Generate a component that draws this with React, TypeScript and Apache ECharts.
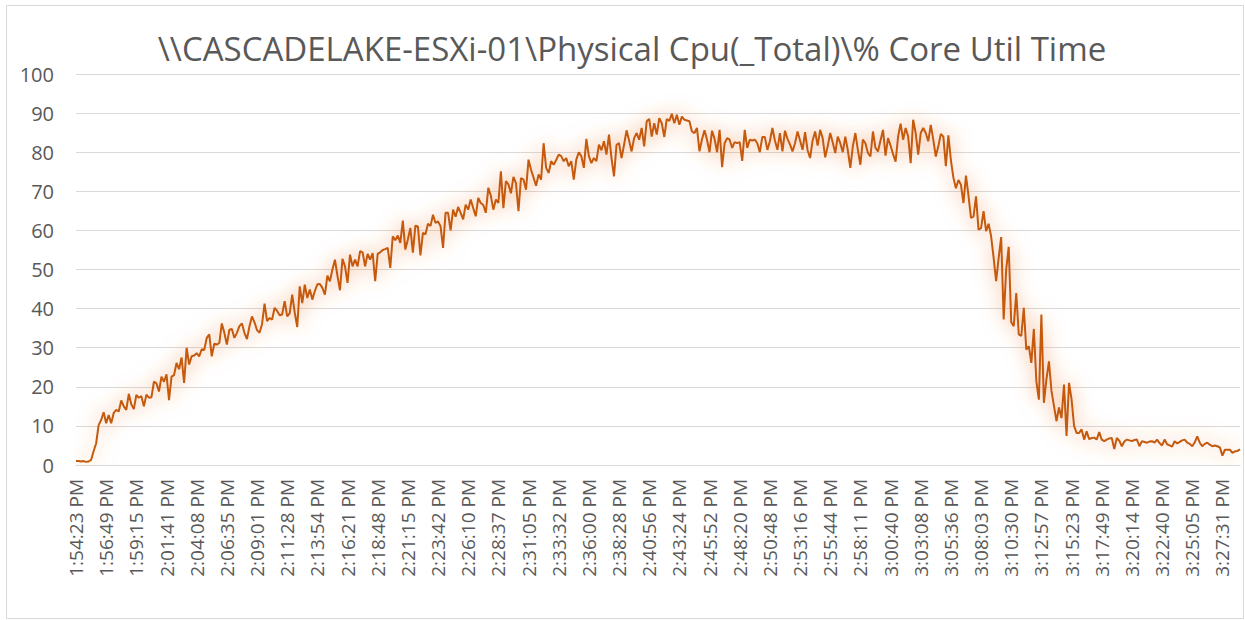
import React, { useEffect, useRef } from "react";
import * as echarts from "echarts";

const chartTitle = "\\\\CASCADELAKE-ESXi-01\\Physical Cpu(_Total)\\% Core Util Time";

const tickLabels = [
  "1:54:23 PM", "1:56:49 PM", "1:59:15 PM", "2:01:41 PM", "2:04:08 PM", "2:06:35 PM",
  "2:09:01 PM", "2:11:28 PM", "2:13:54 PM", "2:16:21 PM", "2:18:48 PM", "2:21:15 PM",
  "2:23:42 PM", "2:26:10 PM", "2:28:37 PM", "2:31:05 PM", "2:33:32 PM", "2:36:00 PM",
  "2:38:28 PM", "2:40:56 PM", "2:43:24 PM", "2:45:52 PM", "2:48:20 PM", "2:50:48 PM",
  "2:53:16 PM", "2:55:44 PM", "2:58:11 PM", "3:00:40 PM", "3:03:08 PM", "3:05:36 PM",
  "3:08:03 PM", "3:10:30 PM", "3:12:57 PM", "3:15:23 PM", "3:17:49 PM", "3:20:14 PM",
  "3:22:40 PM", "3:25:05 PM", "3:27:31 PM",
];

const samplesPerTick = 12;

// ramp-up phase
const rampValues = [
  1.0, 1.0, 0.9, 1.0, 0.8, 0.9, 1.3, 3.5, 5.5, 10.2,
  11.5, 13.5, 10.7, 12.8, 10.7, 13.3, 14.1, 13.7, 16.5, 15.0,
  14.1, 18.2, 15.5, 14.3, 17.9, 17.2, 17.6, 15.0, 18.0, 17.2,
  17.3, 21.3, 20.9, 18.8, 22.6, 21.3, 23.2, 16.6, 22.6, 23.0,
  26.1, 24.5, 27.5, 21.0, 30.0, 25.7, 27.8, 28.0, 28.6, 27.8,
  29.6, 29.4, 32.5, 33.4, 27.8, 31.0, 30.8, 31.2, 36.2, 33.8,
  30.8, 34.6, 34.8, 32.5, 33.8, 35.5, 36.2, 33.8, 32.2, 35.5,
  38.0, 36.5, 34.5, 33.8, 36.0, 41.3, 36.8, 37.6, 37.2, 40.2,
  39.4, 38.3, 38.5, 41.9, 38.0, 38.8, 43.6, 39.0, 35.3, 45.7,
  41.4, 46.1, 42.7, 44.9, 42.3, 44.5, 46.2, 46.3, 45.3, 43.6,
  48.4, 47.0, 50.0, 52.5, 48.4, 44.7, 52.7, 50.8, 46.6, 53.8,
  50.8, 52.5, 50.8, 54.7, 54.4, 50.8, 54.0, 52.5, 54.2, 47.0,
  54.0, 54.4, 55.0, 55.2, 55.5, 50.4, 58.5, 57.5, 58.7, 56.8,
  62.5,
];

// climb to the peak
const climbValues = [
  55.1, 57.7, 60.6, 54.3, 61.2, 61.0, 53.6, 59.4, 59.0, 61.7,
  61.1, 64.0, 61.9, 62.3, 61.1, 55.5, 64.5, 64.5, 60.0, 65.3,
  63.5,
  66.0, 64.5, 62.8, 66.6, 65.3, 67.9, 65.7, 63.6, 68.3, 67.0,
  66.5,
  64.5, 70.9, 68.9, 65.3, 67.9, 67.0, 75.1, 65.7, 72.6, 71.8,
  69.5,
  73.7, 72.1, 64.9, 73.4, 73.0, 70.4, 78.1, 75.5,
  73.5,
  71.4, 74.3, 73.0, 82.3, 76.0, 74.7, 77.7, 76.8,
  78.0,
  79.4, 79.0, 77.7, 78.5, 76.4, 77.7, 73.0, 78.1,
  80.0,
  79.0, 76.0, 83.4, 79.0, 77.2, 78.5, 77.7, 81.9,
  80.5,
  82.8, 79.4, 84.5, 78.5, 73.8, 81.9, 82.3, 78.5, 81.9, 85.6,
  83.0,
  80.2, 83.6, 84.9, 83.2, 86.2, 81.5, 87.9, 88.5, 84.0, 87.4,
  84.5, 88.7, 87.4, 83.9, 88.5, 88.0, 89.8, 87.4, 89.6, 87.0,
  89.1, 88.3, 88.1, 87.9, 85.3, 84.9, 86.2, 80.2,
];

// plateau, drop and idle tail
const plateauValues = [
  83.3, 85.6, 83.2, 80.0, 85.5, 83.4, 80.0, 85.7, 76.2, 82.3,
  83.6, 83.2, 81.1, 82.6, 82.3, 82.6, 77.8, 85.7, 81.1, 83.2,
  83.0, 83.2, 82.3, 80.0, 83.9, 83.9, 80.6, 82.8, 86.2, 83.0,
  80.6, 84.9, 80.2, 85.5, 83.4, 82.0, 80.2, 82.3, 85.3, 83.0,
  80.6, 85.1, 80.5, 78.5, 83.0, 85.3, 81.7, 85.7, 83.6, 78.7,
  81.5, 84.9, 82.5, 79.8, 84.0, 82.3, 80.0, 84.0, 80.5, 76.0,
  81.5, 84.9, 80.6, 76.8, 83.2, 82.3, 79.8, 78.9, 85.3, 81.1,
  80.2, 83.0, 85.7, 79.1, 83.6, 81.7, 79.5, 77.6, 84.0, 87.3,
  83.2, 86.2, 84.0, 77.2, 88.3, 84.9, 79.4, 84.9, 86.2, 84.9,
  82.8, 87.0, 83.2, 78.9, 81.5, 84.7, 84.0, 76.4, 84.3, 78.0,
  73.5, 70.8, 72.9, 71.7, 67.0, 74.0, 68.9, 63.2, 63.5, 68.7,
  60.2, 60.6, 64.9, 59.8, 61.7, 58.5, 53.0, 47.0, 53.0, 58.3,
  37.2, 50.0, 55.8, 36.5, 35.5, 44.0, 33.4, 33.0, 40.2, 29.5,
  30.4, 26.1, 34.8, 21.4, 16.7, 38.5, 15.9, 21.9, 26.5, 19.0,
  15.1, 11.2, 14.7, 12.0, 20.6, 7.4, 21.0, 16.8, 10.0, 8.2,
  8.2, 9.1, 6.5, 8.6, 6.6, 6.9, 7.0, 6.5, 8.4, 6.5,
  6.1, 6.5, 6.8, 6.9, 4.1, 6.9, 6.2, 4.8, 6.0, 6.5,
  6.3, 6.1, 6.4, 6.5, 4.8, 6.1, 5.9, 5.7, 6.0, 6.1,
  5.7, 6.5, 5.6, 5.0, 6.5, 5.3, 5.0, 4.7, 6.1, 5.5,
  5.9, 6.3, 6.5, 5.7, 5.4, 4.8, 5.8, 7.3, 5.7, 4.8,
  5.4, 5.7, 5.2, 4.8, 5.0, 4.8, 4.5, 2.4, 3.9, 3.9,
  3.9, 3.1, 3.5, 3.6, 4.0,
];

const cpuValues = [...rampValues, ...climbValues, ...plateauValues];

const categories = cpuValues.map((_, i) => {
  const t = tickLabels[Math.floor(i / samplesPerTick)];
  return i % samplesPerTick === 0 ? t : `${t} +${i % samplesPerTick}`;
});

const FONT = "Open Sans";
const GRAY = "#595959";

export default function App() {
  const ref = useRef<HTMLDivElement>(null);

  useEffect(() => {
    if (!ref.current) return;
    const chart = echarts.init(ref.current, undefined, { renderer: "svg" });
    chart.setOption({
      animation: false,
      backgroundColor: "#ffffff",
      graphic: [
        {
          type: "rect",
          shape: { x: 6.5, y: 5.5, width: 1237, height: 613 },
          style: { fill: "none", stroke: "#d9d9d9", lineWidth: 1 },
          silent: true,
        },
        {
          type: "text",
          x: 632,
          y: 48,
          silent: true,
          style: {
            text: chartTitle,
            textAlign: "center",
            textVerticalAlign: "middle",
            fontFamily: FONT,
            fontSize: 33,
            fontWeight: "normal",
            fill: GRAY,
          },
        },
      ],
      grid: { left: 76, right: 5, top: 74, bottom: 155 },
      xAxis: {
        type: "category",
        boundaryGap: false,
        data: categories,
        axisLine: { lineStyle: { color: "#d9d9d9", width: 1 } },
        axisTick: { show: false },
        axisLabel: {
          interval: samplesPerTick - 1,
          rotate: 90,
          margin: 14,
          color: GRAY,
          fontFamily: FONT,
          fontSize: 19,
          formatter: (v: string) => v,
        },
        splitLine: { show: false },
      },
      yAxis: {
        type: "value",
        min: 0,
        max: 100,
        interval: 10,
        axisLine: { show: false },
        axisTick: { show: false },
        axisLabel: { color: GRAY, fontFamily: FONT, fontSize: 20, margin: 22 },
        splitLine: { lineStyle: { color: "#d9d9d9", width: 1 } },
      },
      series: [
        {
          type: "line",
          data: cpuValues,
          symbol: "none",
          showSymbol: false,
          lineStyle: {
            color: "#c55a11",
            width: 2,
            shadowColor: "rgba(237,125,49,0.7)",
            shadowBlur: 20,
          },
        },
      ],
    });
    return () => chart.dispose();
  }, []);

  return (
    <div
      ref={ref}
      style={{ position: "absolute", left: 0, top: 0, width: 1245, height: 620 }}
    />
  );
}
